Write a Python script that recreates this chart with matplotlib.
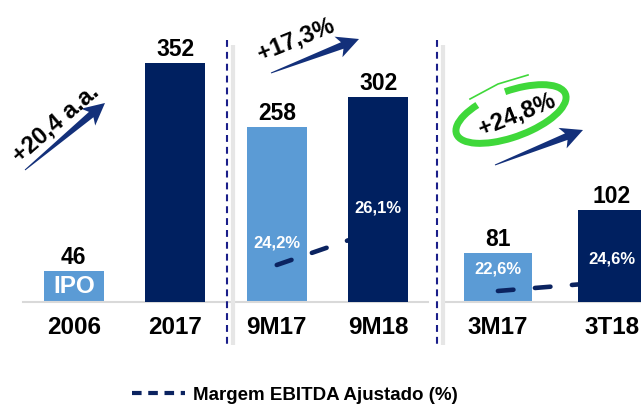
import matplotlib
matplotlib.use('Agg')
import matplotlib.pyplot as plt
from matplotlib.lines import Line2D
from matplotlib.patches import Polygon, Arc
import numpy as np

plt.rcParams['font.family'] = ['Liberation Sans', 'DejaVu Sans']

# dados
anual_cats = ['2006', '2017', '9M17', '9M18']
anual_vals = [46, 352, 258, 302]
trim_cats = ['3M17', '3T18']
trim_vals = [81, 102]
margem_9m = [24.2, 26.1]
margem_9m_lbl = ['24,2%', '26,1%']
margem_3m = [22.6, 24.6]
margem_3m_lbl = ['22,6%', '24,6%']

AZUL_CLARO = '#5B9BD5'
AZUL_ESCURO = '#002060'
AZUL_LINHA = '#0B2360'
VERDE = '#3FD83A'

W, H = 641, 407
fig = plt.figure(figsize=(W / 100, H / 100), dpi=100)


def caixa(x0, x1, y_top, y_bot):
    # pixels da imagem -> fracao da figura
    return [x0 / W, 1 - y_bot / H, (x1 - x0) / W, (y_bot - y_top) / H]


def barras(ax, cats, vals, cores):
    x = np.arange(len(cats))
    bars = ax.bar(x, vals, width=0.59, color=cores, zorder=1)
    for b, c in zip(bars, cores):
        if c == AZUL_ESCURO:
            b.set_zorder(3)
    ax.bar_label(bars, labels=[str(v) for v in vals], padding=1,
                 fontsize=16.5, fontweight='bold', color='black')
    ax.set_xticks(x, cats, fontsize=17.5, fontweight='bold')
    ax.tick_params(axis='x', length=0, pad=10)
    ax.set_yticks([])
    for s in ['left', 'right', 'top']:
        ax.spines[s].set_visible(False)
    ax.spines['bottom'].set_color('#D9D9D9')
    ax.spines['bottom'].set_linewidth(1.5)
    ax.patch.set_alpha(0)
    return bars


def margem(ax, xs, vals, lbls, ylim):
    tw = ax.twinx()
    tw.set_ylim(*ylim)
    tw.set_visible(False)
    ax.plot(xs, vals, transform=tw.transData, color=AZUL_LINHA, lw=3.3,
            dashes=(3.4, 4.7), dash_capstyle='round', zorder=2.5)
    for x, v, t in zip(xs, vals, lbls):
        ax.annotate(t, (x, v), xycoords=tw.transData, xytext=(0, 16),
                    textcoords='offset points', ha='center', va='center',
                    color='white', fontsize=12, fontweight='bold', zorder=5)


# grupo anual / 9 meses
ax1 = fig.add_axes(caixa(23, 428, 20, 302))
barras(ax1, anual_cats, anual_vals, [AZUL_CLARO, AZUL_ESCURO, AZUL_CLARO, AZUL_ESCURO])
ax1.text(0, anual_vals[0] / 2, 'IPO', ha='center', va='center', color='white',
         fontsize=17.5, fontweight='bold', zorder=4)
margem(ax1, [2, 3], margem_9m, margem_9m_lbl, (22.19, 37.5))
ax1.set_xlim(-0.5, 3.49)
ax1.set_ylim(0, 415)

# grupo trimestral
ax2 = fig.add_axes(caixa(442, 641, 20, 302))
barras(ax2, trim_cats, trim_vals, [AZUL_CLARO, AZUL_ESCURO])
margem(ax2, [0, 1], margem_3m, margem_3m_lbl, (20.23, 80.9))
ax2.set_xlim(-0.49, 1.254)
ax2.set_ylim(57, 194.7)

# camada de anotacoes em pixels
ov = fig.add_axes([0, 0, 1, 1])
ov.set_xlim(0, W)
ov.set_ylim(H, 0)
ov.axis('off')
ov.patch.set_alpha(0)

# separadores
for xs in [227, 437]:
    ov.plot([xs + 6, xs + 6], [45, 345], color='#E6E6E6', lw=3, solid_capstyle='butt')
    ov.plot([xs, xs], [40, 345], color='#1B1F8A', lw=1.5, dashes=(3.3, 2.4))


def seta(tail, tip, w_tail=1.0, w_shaft=7, head_w=22, head_len=18, cor='#13307A'):
    tail = np.array(tail, float)
    tip = np.array(tip, float)
    d = tip - tail
    u = d / np.hypot(*d)
    n = np.array([-u[1], u[0]])
    base = tip - u * head_len
    pts = [tail + n * w_tail / 2, base + n * w_shaft / 2, base - u * 4 + n * head_w / 2, tip,
           base - u * 4 - n * head_w / 2, base - n * w_shaft / 2, tail - n * w_tail / 2]
    ov.add_patch(Polygon(pts, closed=True, facecolor=cor, edgecolor='none'))


seta((25, 170), (105, 103))
seta((271, 73), (359, 39))
seta((495, 165), (583, 130))

ov.text(56, 124, '+20,4 a.a.', rotation=41, ha='center', va='center',
        rotation_mode='anchor', fontsize=17, fontweight='bold')
ov.text(296, 40, '+17,3%', rotation=22, ha='center', va='center',
        rotation_mode='anchor', fontsize=17, fontweight='bold')

# destaque verde
ov.add_patch(Arc((511, 114), 116, 46, angle=-20, theta1=275, theta2=215,
                 color=VERDE, lw=5))
ov.plot([470, 498, 528], [99, 84, 75], color=VERDE, lw=1.2)
ov.text(517, 115, '+24,8%', rotation=22, ha='center', va='center',
        rotation_mode='anchor', fontsize=17, fontweight='bold')

# legenda
h = Line2D([], [], color=AZUL_LINHA, lw=3, dashes=(2.3, 1.6))
fig.legend([h], ['Margem EBITDA Ajustado (%)'], loc='center',
           bbox_to_anchor=(294.5 / W, 1 - 395 / H), frameon=False,
           prop={'weight': 'bold', 'size': 13.5}, handlelength=2.83, handletextpad=0.43)

fig.savefig('out.png', dpi=100)
